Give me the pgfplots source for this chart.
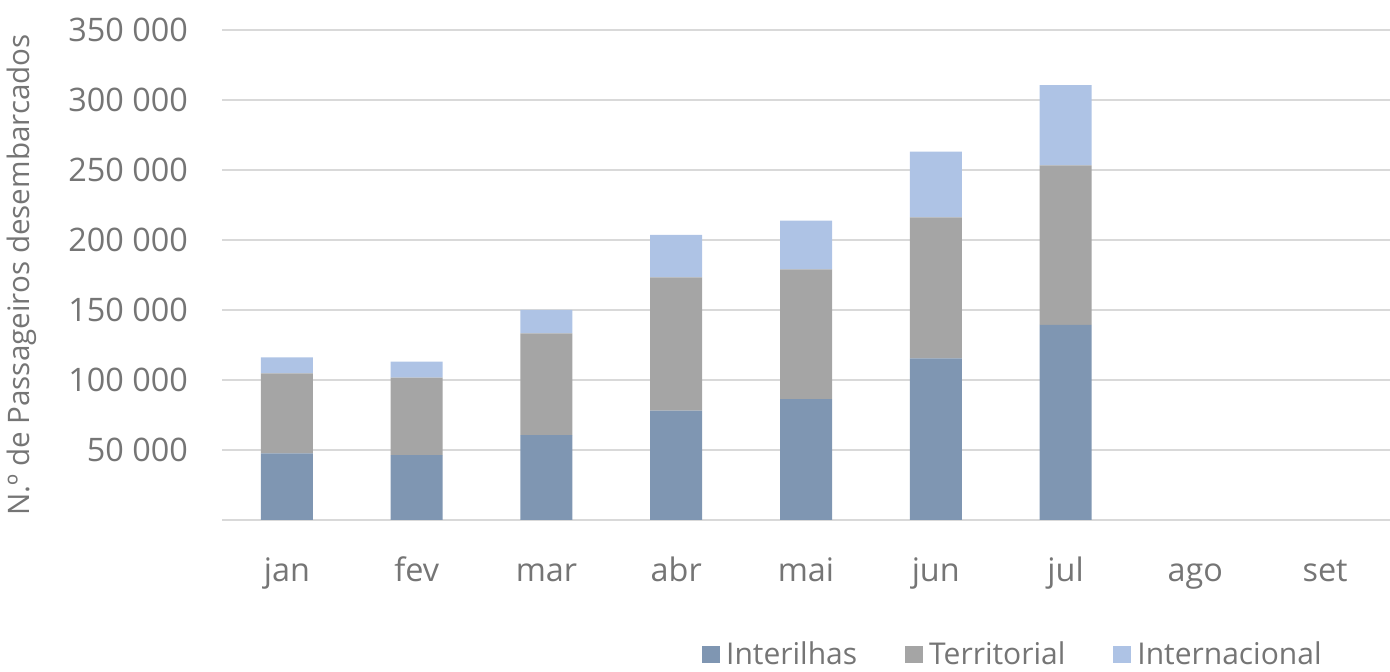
\documentclass[border=0pt]{standalone}
\usepackage{pgfplots}
\pgfplotsset{compat=1.18}
\usepackage{fontspec}
\setmainfont{Open Sans}
\definecolor{inter}{HTML}{7F96B2}
\definecolor{terr}{HTML}{A5A5A5}
\definecolor{intl}{HTML}{AEC3E5}
\definecolor{txt}{HTML}{757575}
\definecolor{grid}{HTML}{D9D9D9}
\begin{document}
\begin{tikzpicture}
\path[use as bounding box] (0,0) rectangle (695pt,336pt);
\begin{axis}[
  at={(111pt,76pt)}, anchor=south west,
  scale only axis, width=584pt, height=245pt,
  ybar stacked, bar width=26pt,
  xmin=-0.5, xmax=8.5, ymin=0, ymax=350000,
  xtick=data, xticklabels={jan,fev,mar,abr,mai,jun,jul,ago,set},
  ytick={50000,100000,150000,200000,250000,300000,350000},
  yticklabels={50 000,100 000,150 000,200 000,250 000,300 000,350 000},
  scaled y ticks=false,
  axis x line*=bottom, axis y line*=left,
  x axis line style={draw=grid, line width=0.8pt},
  y axis line style={draw=none},
  major tick length=0pt,
  ymajorgrids, grid style={draw=grid, line width=0.8pt},
  tick label style={font=\fontsize{16.2}{18}\selectfont, text=txt},
  yticklabel style={anchor=east, xshift=-13.5pt},
  xticklabel style={anchor=base, yshift=-31pt},
  ylabel={N.º de Passageiros desembarcados},
  every axis y label/.style={at={(rel axis cs:0,0.5)}, xshift=-100pt, rotate=90, anchor=center, font=\fontsize{14.8}{16}\selectfont, text=txt},
  legend columns=3,
  legend style={draw=none, at={(rel axis cs:0.678,-0.2755)}, anchor=center,
    font=\fontsize{15}{16}\selectfont, text=txt, inner sep=0pt,
    /tikz/every odd column/.append style={column sep=1pt},
    /tikz/every even column/.append style={column sep=22pt}},
  legend image code/.code={\fill[#1,draw=none] (0pt,-4pt) rectangle (9pt,4.5pt);},
]
\addplot[fill=inter, draw=none] coordinates {(0,47600) (1,46400) (2,60700) (3,78100) (4,86400) (5,115500) (6,139300) (7,0) (8,0)};
\addplot[fill=terr, draw=none] coordinates {(0,57200) (1,55300) (2,72600) (3,95200) (4,92600) (5,100700) (6,114000) (7,0) (8,0)};
\addplot[fill=intl, draw=none] coordinates {(0,11400) (1,11400) (2,16700) (3,30300) (4,34800) (5,46900) (6,57400) (7,0) (8,0)};
\legend{Interilhas,Territorial,Internacional}
\end{axis}
\end{tikzpicture}
\end{document}
